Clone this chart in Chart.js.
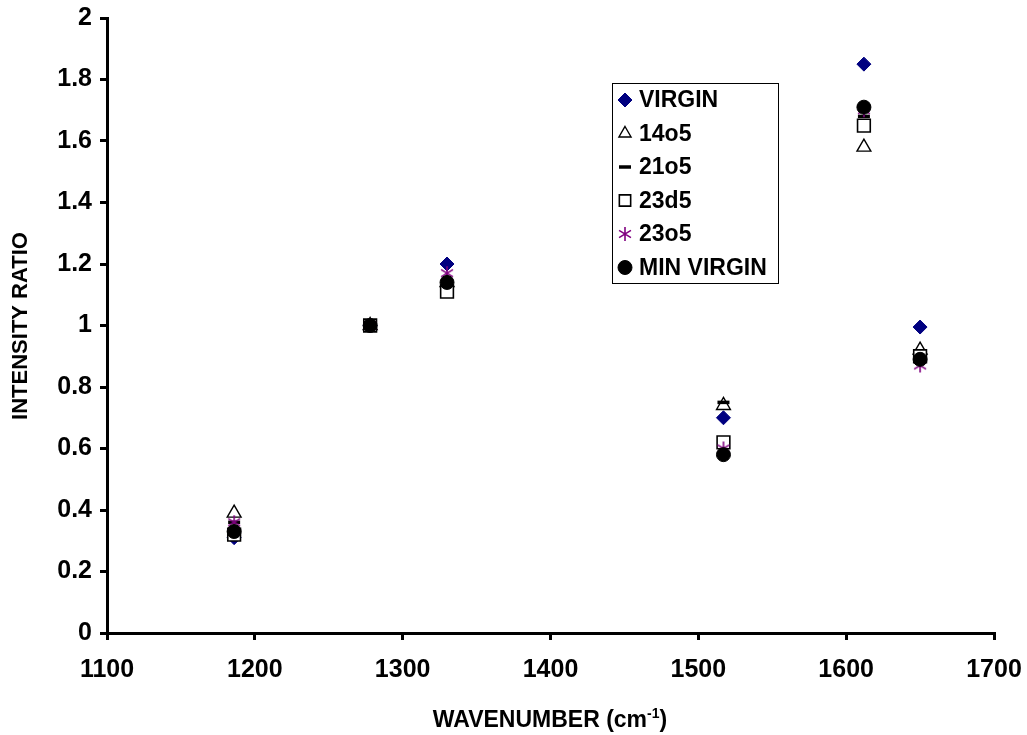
<!DOCTYPE html>
<html>
<head>
<meta charset="utf-8">
<script src="https://cdn.jsdelivr.net/npm/chart.js@4.4.0/dist/chart.umd.min.js"></script>
<style>
  html, body { margin: 0; padding: 0; background: #fff; }
  #wrap { width: 1027px; height: 735px; }
</style>
</head>
<body>
<div id="wrap"><canvas id="ratioChart" width="1027" height="735"></canvas></div>
<script>
// wavenumbers of the measured bands
const wavenumbers = [1186, 1278, 1330, 1517, 1612, 1650];

const seriesNames = ['VIRGIN', '14o5', '21o5', '23d5', '23o5', 'MIN VIRGIN'];

const virgin    = [0.31, 1.00, 1.20, 0.70, 1.85, 0.995];
const s14o5     = [0.39, 1.00, 1.14, 0.74, 1.58, 0.92];
const s21o5     = [0.36, 1.00, 1.14, 0.75, 1.68, 0.91];
const s23d5     = [0.32, 1.00, 1.11, 0.62, 1.65, 0.90];
const s23o5     = [0.36, 1.00, 1.17, 0.60, 1.70, 0.87];
const minVirgin = [0.33, 1.00, 1.14, 0.58, 1.71, 0.89];

const yTicks = [0, 0.2, 0.4, 0.6, 0.8, 1, 1.2, 1.4, 1.6, 1.8, 2];
const xTicks = [1100, 1200, 1300, 1400, 1500, 1600, 1700];

const FONT = '"Liberation Sans", Arial, sans-serif';

// purple asterisk marker (vertical + X), like the Excel one
function makeAsterisk(size, color) {
    const c = document.createElement('canvas');
    c.width = size;
    c.height = size;
    const g = c.getContext('2d');
    const m = size / 2;
    const r = size / 2 - 1;
    g.strokeStyle = color;
    g.lineWidth = 1.6;
    g.beginPath();
    g.moveTo(m, m - r); g.lineTo(m, m + r);
    const d = r * 0.85;
    g.moveTo(m - d, m - d * 0.6); g.lineTo(m + d, m + d * 0.6);
    g.moveTo(m + d, m - d * 0.6); g.lineTo(m - d, m + d * 0.6);
    g.stroke();
    return c;
}
const asterisk = makeAsterisk(16, '#800080');

function pts(values) {
    return values.map((v, i) => ({ x: wavenumbers[i], y: v }));
}

const seriesValues = [virgin, s14o5, s21o5, s23d5, s23o5, minVirgin];
const styles = [
    { pointStyle: 'rectRot', radius: 7, bg: '#000080', border: '#000080', bw: 1 },
    { pointStyle: 'triangle', radius: 8, bg: '#ffffff', border: '#000000', bw: 1.4 },
    { pointStyle: 'line', radius: 6, bg: '#000000', border: '#000000', bw: 3.5 },
    { pointStyle: 'rect', radius: 9, bg: '#ffffff', border: '#000000', bw: 1.6 },
    { pointStyle: asterisk, radius: 8, bg: '#800080', border: '#800080', bw: 1 },
    { pointStyle: 'circle', radius: 7, bg: '#000000', border: '#000000', bw: 1 },
];

const datasets = seriesNames.map((name, i) => ({
    label: name,
    data: pts(seriesValues[i]),
    pointStyle: styles[i].pointStyle,
    pointRadius: styles[i].radius,
    pointBackgroundColor: styles[i].bg,
    pointBorderColor: styles[i].border,
    pointBorderWidth: styles[i].bw,
    showLine: false,
    order: seriesNames.length - i, // later series drawn on top
}));

// boxed legend inside the plot, drawn by hand like the Excel one
const boxLegendPlugin = {
    id: 'boxLegend',
    afterDraw(chart) {
        const ctx = chart.ctx;
        const x0 = 612, y0 = 83, w = 166, h = 200;
        ctx.save();
        ctx.fillStyle = '#ffffff';
        ctx.fillRect(x0, y0, w, h);
        ctx.strokeStyle = '#000000';
        ctx.lineWidth = 1;
        ctx.strokeRect(x0 + 0.5, y0 + 0.5, w, h);
        ctx.font = 'bold 23px ' + FONT;
        ctx.textBaseline = 'middle';
        ctx.textAlign = 'left';
        chart.data.datasets.forEach((ds, i) => {
            const cy = y0 + 17 + i * 33.5;
            const cx = x0 + 13;
            const r = Math.min(ds.pointRadius, 7);
            ctx.fillStyle = ds.pointBackgroundColor;
            ctx.strokeStyle = ds.pointBorderColor;
            ctx.lineWidth = ds.pointBorderWidth;
            Chart.helpers.drawPoint(ctx, {
                pointStyle: ds.pointStyle,
                radius: ds.pointStyle === 'rect' ? 8 : ds.pointStyle === 'triangle' ? 7 : r,
                rotation: 0,
                borderWidth: ds.pointBorderWidth,
            }, cx, cy);
            ctx.fillStyle = '#000000';
            ctx.fillText(ds.label, x0 + 27, cy + 1);
        });
        ctx.restore();
    },
};

// axis titles; x title carries a superscript -1
const axisTitlePlugin = {
    id: 'axisTitles',
    afterDraw(chart) {
        const ctx = chart.ctx;
        const big = 'bold 23px ' + FONT;
        const small = 'bold 14px ' + FONT;
        ctx.save();
        ctx.fillStyle = '#000000';
        ctx.textBaseline = 'alphabetic';
        ctx.font = big;
        const main = 'WAVENUMBER (cm';
        const sup = '-1';
        const close = ')';
        const wMain = ctx.measureText(main).width;
        const wClose = ctx.measureText(close).width;
        ctx.font = small;
        const wSup = ctx.measureText(sup).width;
        const total = wMain + wSup + wClose;
        let x = 550 - total / 2;
        const y = 727;
        ctx.font = big;
        ctx.fillText(main, x, y);
        x += wMain;
        ctx.font = small;
        ctx.fillText(sup, x, y - 9);
        x += wSup;
        ctx.font = big;
        ctx.fillText(close, x, y);

        ctx.translate(21, 326);
        ctx.rotate(-Math.PI / 2);
        ctx.textAlign = 'center';
        ctx.textBaseline = 'middle';
        ctx.font = 'bold 22px ' + FONT;
        ctx.fillText('INTENSITY RATIO', 0, 0);
        ctx.restore();
    },
};

new Chart(document.getElementById('ratioChart').getContext('2d'), {
    type: 'scatter',
    data: { datasets: datasets },
    options: {
        responsive: false,
        animation: false,
        layout: { padding: { left: 0, right: 33, top: 18, bottom: 0 } },
        plugins: {
            legend: { display: false },
            tooltip: { enabled: false },
        },
        scales: {
            x: {
                type: 'linear',
                min: 1100,
                max: 1700,
                afterBuildTicks: (scale) => {
                    scale.ticks = xTicks.map((v) => ({ value: v }));
                },
                afterFit: (scale) => {
                    scale.height = 102;
                    scale.paddingLeft = 0;
                    scale.paddingRight = 0;
                },
                border: { display: true, color: '#000000', width: 3 },
                grid: {
                    drawOnChartArea: false,
                    drawTicks: true,
                    tickLength: 7,
                    color: '#000000',
                    lineWidth: 3,
                },
                ticks: {
                    color: '#000000',
                    font: { family: FONT, size: 25, weight: 'bold' },
                    padding: 15,
                    maxRotation: 0,
                    callback: (v) => String(v),
                },
            },
            y: {
                min: 0,
                max: 2,
                afterBuildTicks: (scale) => {
                    scale.ticks = yTicks.map((v) => ({ value: v }));
                },
                afterFit: (scale) => {
                    scale.width = 107;
                    scale.paddingTop = 0;
                    scale.paddingBottom = 0;
                },
                border: { display: true, color: '#000000', width: 3 },
                grid: {
                    drawOnChartArea: false,
                    drawTicks: true,
                    tickLength: 7,
                    color: '#000000',
                    lineWidth: 3,
                },
                ticks: {
                    color: '#000000',
                    font: { family: FONT, size: 25, weight: 'bold' },
                    padding: 8,
                    callback: (v) => String(+v.toFixed(1)),
                },
            },
        },
    },
    plugins: [boxLegendPlugin, axisTitlePlugin],
});
</script>
</body>
</html>
